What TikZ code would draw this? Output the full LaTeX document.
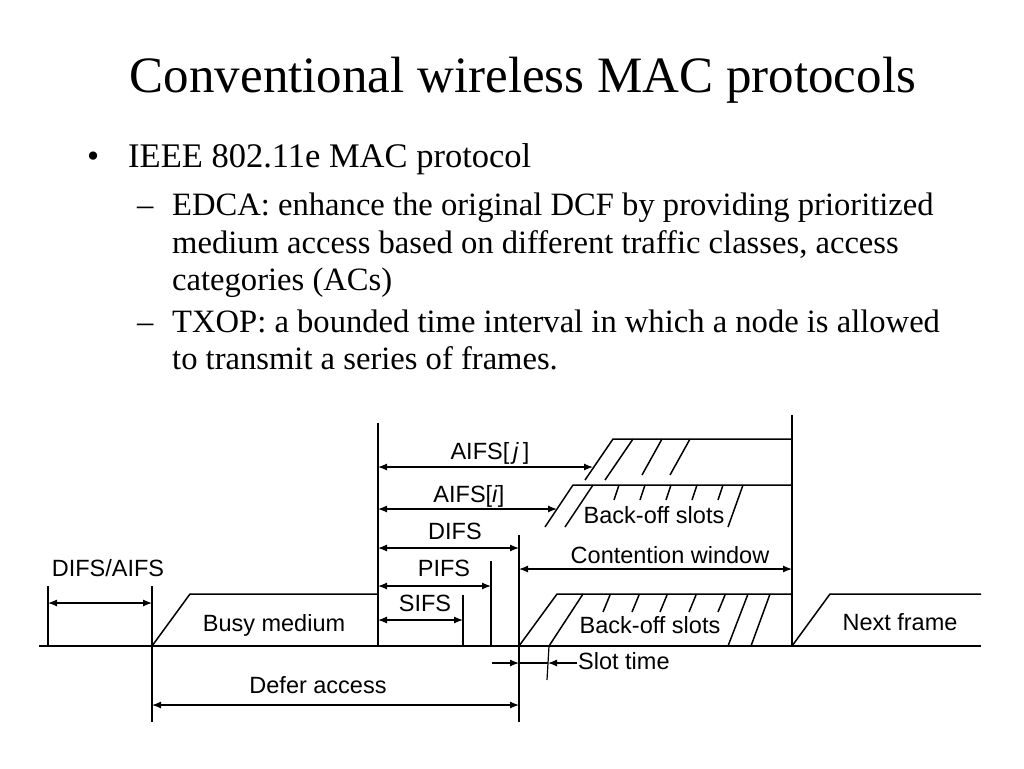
\documentclass[tikz,border=0pt]{standalone}
\usepackage{fontspec}
\setmainfont{Liberation Serif}
\setsansfont{Liberation Sans}
\usetikzlibrary{arrows.meta,positioning}

\begin{document}
\begin{tikzpicture}[x=1pt,y=-1pt,
  wire/.style={line width=1.5pt},
  thin/.style={line width=1.2pt},
  span/.style={thin,{Latex[length=9pt,width=7pt]}-{Latex[length=9pt,width=7pt]}},
  tip/.style={thin,-{Latex[length=9pt,width=7pt]}},
  lbl/.style={font=\sffamily\fontsize{23.5}{23.5}\selectfont,inner sep=0pt,anchor=base},
  body/.style={font=\fontsize{32.6}{32.6}\selectfont,inner sep=0pt,anchor=base west}]
  \useasboundingbox (0,0) rectangle (1024,768);

  % slide text
  \node[anchor=base,inner sep=0pt,font=\fontsize{51}{51}\selectfont] (title) at (523,92) {Conventional wireless MAC protocols};
  \node[body,font=\fontsize{34.5}{34.5}\selectfont] (bul) at (87,167) {•};
  \node[body,font=\fontsize{34.5}{34.5}\selectfont] (item) at (128,167) {IEEE 802.11e MAC protocol};
  \node[body] (dash1) at (137,215) {–};
  \node[body] (edca1) at (172,215) {EDCA: enhance the original DCF by providing prioritized};
  \node[body] (edca2) at (172,253) {medium access based on different traffic classes, access};
  \node[body] (edca3) at (172,290) {categories (ACs)};
  \node[body] (dash2) at (137,332) {–};
  \node[body] (txop1) at (172,332) {TXOP: a bounded time interval in which a node is allowed};
  \node[body] (txop2) at (172,369) {to transmit a series of frames.};

  % time axis and marks
  \draw[wire] (39,646) -- (981,646);
  \draw[wire] (48,586) -- (48,646);
  \draw[wire] (152,586) -- (152,722);
  \draw[wire] (378,423) -- (378,646);
  \draw[wire] (463,595) -- (463,646);
  \draw[wire] (491,561) -- (491,646);
  \draw[wire] (519,535) -- (519,722);
  \draw[wire] (792,415) -- (792,646);

  % frames
  \draw[wire] (152,646) -- (190,594) -- (378,594);
  \draw[wire] (792,646) -- (830,594) -- (981,594);

  % back-off windows
  \draw[wire] (585,480) -- (613,439) -- (792,439);
  \draw[wire] (605,480) -- (633,439);
  \draw[wire] (642,475) -- (662,439);
  \draw[wire] (670,475) -- (690,439);

  \draw[wire] (545,527) -- (573,485) -- (792,485);
  \draw[wire] (565,527) -- (593,485);
  \foreach \x in {614,640,666,692,718}
    \draw[wire] (\x,500) -- (\x+5,485);
  \draw[wire] (728,527) -- (743,485);

  \draw[wire] (519,646) -- (557,594) -- (792,594);
  \draw[wire] (549,646) -- (583,594);
  \foreach \x in {603,632,660,689,718}
    \draw[wire] (\x,612) -- (\x+7,595);
  \draw[wire] (728,646) -- (748,594);
  \draw[wire] (751,646) -- (770,594);

  % slot time
  \draw[thin] (549,646) -- (547,680);
  \draw[tip] (492,663) -- (519,663);
  \draw[tip] (577,663) -- (548,663);
  \draw[thin] (519,663) -- (548,663);

  % intervals
  \draw[span] (48,603) -- (152,603);
  \draw[span] (378,467) -- (593,467);
  \draw[span] (378,509) -- (557,509);
  \draw[span] (378,548) -- (519,548);
  \draw[span] (378,586) -- (491,586);
  \draw[span] (378,620) -- (463,620);
  \draw[span] (519,569) -- (792,569);
  \draw[span] (152,705) -- (519,705);

  % labels
  \node[lbl] (difsaifs) at (108,576) {DIFS/AIFS};
  \node[lbl] (busy) at (274,631) {Busy medium};
  \node[lbl] (defer) at (318,693) {Defer access};
  \node[lbl] (sifs) at (425,611) {SIFS};
  \node[lbl] (pifs) at (444,576) {PIFS};
  \node[lbl] (difs) at (455,539) {DIFS};
  \node[lbl] (aifsi) at (469,502) {AIFS[\textit{i}]};
  \node[lbl] (aifsj) at (490,459) {AIFS[\,\textit{j}\,]};
  \node[lbl] (backoffi) at (654,523) {Back-off slots};
  \node[lbl] (cw) at (670,563) {Contention window};
  \node[lbl] (backoff) at (650,633) {Back-off slots};
  \node[lbl,anchor=base west] (slot) at (578,669) {Slot time};
  \node[lbl] (next) at (900,630) {Next frame};
\end{tikzpicture}
\end{document}
